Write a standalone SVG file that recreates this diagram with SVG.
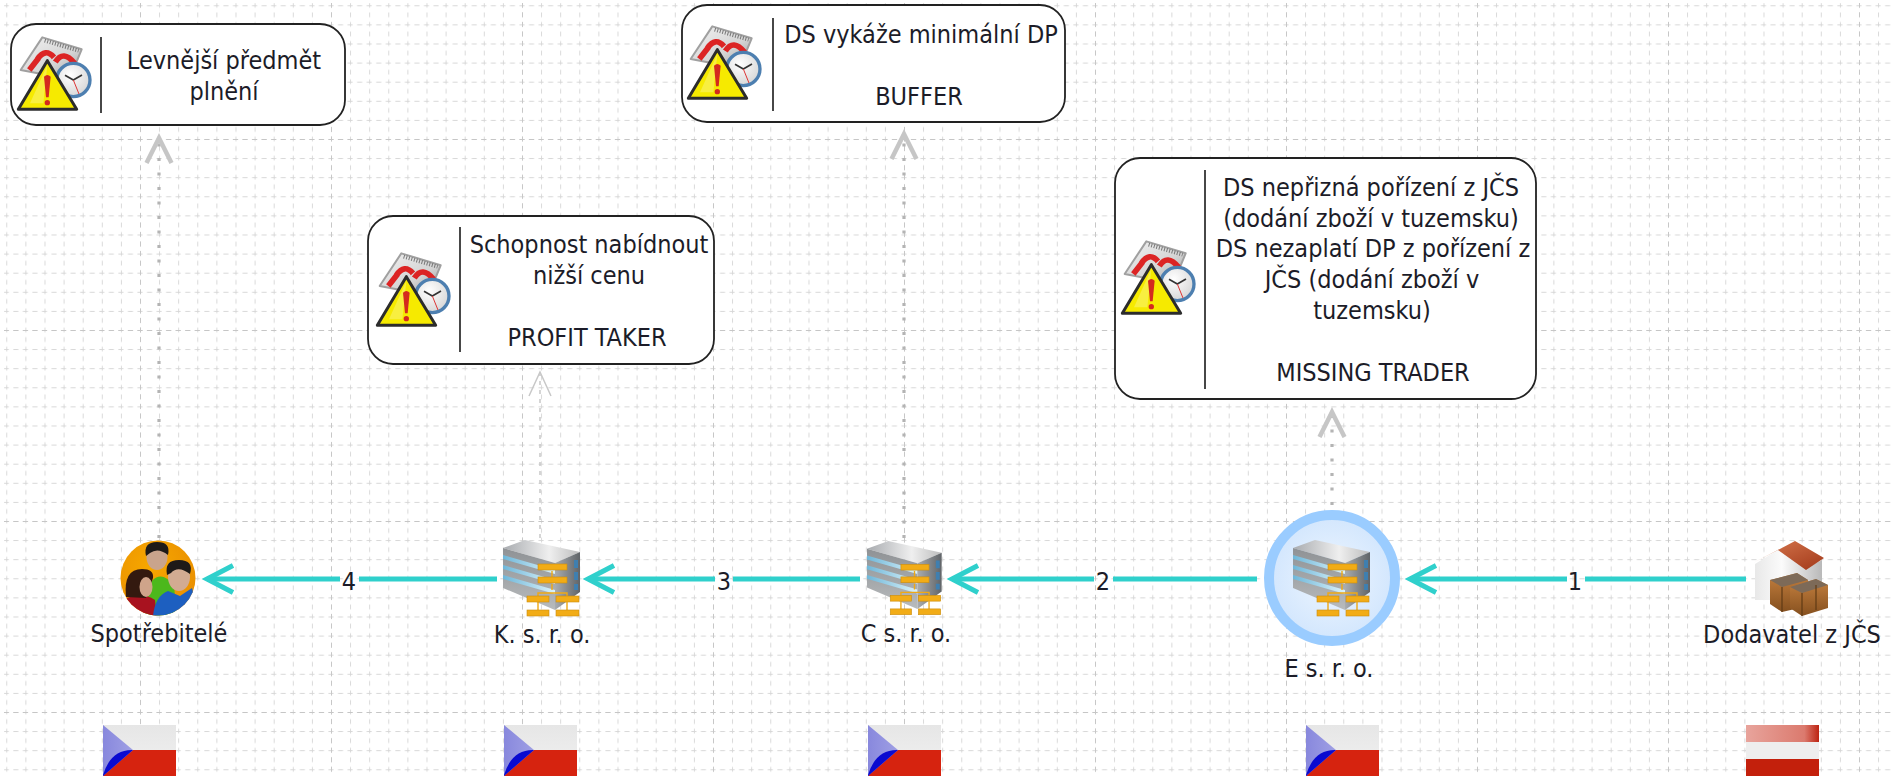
<svg xmlns="http://www.w3.org/2000/svg" xmlns:xlink="http://www.w3.org/1999/xlink" width="1891" height="776" viewBox="0 0 1891 776">
<style>
text{font-family:"DejaVu Sans","Liberation Sans",sans-serif;font-stretch:condensed;font-size:25px;fill:#1c1c28;text-anchor:middle}
.box{fill:#fff;stroke:#222;stroke-width:1.8}
.div{stroke:#333;stroke-width:1.8}
.flow{fill:none;stroke:#2fd0cc;stroke-width:5;marker-end:url(#teal)}
.dep{fill:none;stroke:#b4b4b4;stroke-width:3.2;stroke-dasharray:3 11.5;marker-end:url(#gray)}
.dep2{fill:none;stroke:#c4c4c4;stroke-width:1.4;stroke-dasharray:4 5;marker-end:url(#grayThin)}
</style>
<defs>
<marker id="teal" markerUnits="userSpaceOnUse" markerWidth="50" markerHeight="50" viewBox="-40 -25 50 50" refX="0" refY="0" orient="auto" overflow="visible"><path d="M-26,-13.5L0,0L-26,13.5" fill="none" stroke="#2fd0cc" stroke-width="5"/></marker>
<marker id="gray" markerUnits="userSpaceOnUse" markerWidth="50" markerHeight="50" viewBox="-40 -25 50 50" refX="0" refY="0" orient="auto" overflow="visible"><path d="M-25,-12.5L0,0L-25,12.5" fill="none" stroke="#c6c6c6" stroke-width="4.5"/></marker>
<marker id="grayThin" markerUnits="userSpaceOnUse" markerWidth="50" markerHeight="50" viewBox="-40 -25 50 50" refX="0" refY="0" orient="auto" overflow="visible"><path d="M-24,-11L0,0L-24,11" fill="none" stroke="#c8c8c8" stroke-width="1.5"/></marker>
<pattern id="minor" width="19.1" height="19.1" patternUnits="userSpaceOnUse" patternTransform="translate(6.3,5.3)">
<path d="M0,0H2.5M7.05,0H12.05M16.6,0H19.1M0,0V2.5M0,7.05V12.05M0,16.6V19.1" fill="none" stroke="#d6d6d6" stroke-width="1.8"/>
</pattern>
<pattern id="major" width="191" height="191" patternUnits="userSpaceOnUse" patternTransform="translate(140,139)">
<path d="M0,0H191M0,0V191" fill="none" stroke="#c6c6c6" stroke-width="1.8" stroke-dasharray="5 4.55" stroke-dashoffset="2.5"/>
</pattern>
<linearGradient id="cal" x1="0" y1="0" x2="1" y2="1"><stop offset="0" stop-color="#f2f2f2"/><stop offset=".6" stop-color="#d4d4d4"/><stop offset="1" stop-color="#9a9a9a"/></linearGradient>
<radialGradient id="clockF" cx=".4" cy=".35" r=".8"><stop offset="0" stop-color="#fff"/><stop offset="1" stop-color="#cfcfcf"/></radialGradient>
<linearGradient id="top" x1="0" y1="0" x2="1" y2="0"><stop offset="0" stop-color="#a8abaf"/><stop offset=".6" stop-color="#efefef"/><stop offset="1" stop-color="#bcbcbc"/></linearGradient>
<linearGradient id="face" x1="0" y1="0" x2="0" y2="1"><stop offset="0" stop-color="#8f9295"/><stop offset="1" stop-color="#b8bbbd"/></linearGradient>
<linearGradient id="glass" x1="0" y1="0" x2="1" y2="0"><stop offset="0" stop-color="#6fb7d9"/><stop offset="1" stop-color="#dbf2fa"/></linearGradient>
<linearGradient id="side" x1="0" y1="0" x2="1" y2="0"><stop offset="0" stop-color="#a9acaf"/><stop offset="1" stop-color="#606468"/></linearGradient>
<radialGradient id="ora" cx=".4" cy=".35" r=".7"><stop offset="0" stop-color="#f7a800"/><stop offset="1" stop-color="#e98e00"/></radialGradient>
<radialGradient id="halo" cx=".5" cy=".5" r=".5"><stop offset="0" stop-color="#eef6ff"/><stop offset="1" stop-color="#d2e6fd"/></radialGradient>
<linearGradient id="wall" x1="0" y1="0" x2="1" y2="0"><stop offset="0" stop-color="#e8e8e8"/><stop offset=".4" stop-color="#fbfbfb"/><stop offset="1" stop-color="#b9b9b9"/></linearGradient>
<linearGradient id="roof" x1="0" y1="0" x2="1" y2="1"><stop offset="0" stop-color="#d97a50"/><stop offset="1" stop-color="#a2391a"/></linearGradient>
<linearGradient id="crate" x1="0" y1="0" x2="0" y2="1"><stop offset="0" stop-color="#c5803f"/><stop offset="1" stop-color="#85501f"/></linearGradient>
<linearGradient id="whiteBand" x1="0" y1="0" x2="0" y2="1"><stop offset="0" stop-color="#e6e6e6"/><stop offset="1" stop-color="#f2f2f2"/></linearGradient>
<linearGradient id="triBlue" x1="0" y1="0" x2="1" y2="0"><stop offset="0" stop-color="#8888dd"/><stop offset="1" stop-color="#9f9fe4"/></linearGradient>
<linearGradient id="atTop" x1="0" y1="0" x2="1" y2="0"><stop offset="0" stop-color="#e8a49c"/><stop offset=".8" stop-color="#db7a6e"/><stop offset="1" stop-color="#bd2412"/></linearGradient>
<clipPath id="pplClip"><circle cx="158" cy="578" r="37.5"/></clipPath>

<g id="warn"><g transform="scale(.3333)">
<path d="M97,52L215,88L178,178L32,150Z" fill="url(#cal)" stroke="#a0a0a0" stroke-width="6" stroke-linejoin="round"/>
<path d="M104,62L206,92" stroke="#777" stroke-width="12" stroke-dasharray="3 5" fill="none"/>
<path d="M82,118Q106,82 132,112M136,126Q160,88 194,130M58,150L86,114" stroke="#dc2424" stroke-width="17" fill="none"/>
<circle cx="190" cy="180" r="50" fill="url(#clockF)" stroke="#4d7fb0" stroke-width="10"/>
<path d="M190,180L165,166M190,180L216,165" stroke="#333" stroke-width="5" fill="none"/>
<path d="M190,180L207,222" stroke="#d33" stroke-width="3" fill="none"/>
<path d="M112,122L200,268H25Z" fill="#f6ea00" stroke="#2c2c2c" stroke-width="9" stroke-linejoin="round"/>
<path d="M112,135L60,250H100Z" fill="#fff" opacity=".25"/>
<path d="M102,170Q112,160 122,170L116,232H108Z" fill="#d42a1e"/>
<circle cx="112" cy="248" r="8" fill="#d42a1e"/>
</g></g>

<g id="bldg">
<path d="M1,8L23,0L78,12L53,23Z" fill="url(#top)"/>
<path d="M1,8L53,23V70L1,48Z" fill="url(#face)"/>
<path d="M1,15L53,30V34L1,19ZM1,25L53,40V44L1,29ZM1,35L53,50V54L1,39Z" fill="url(#glass)"/>
<path d="M53,23L78,12V52L53,70Z" fill="url(#side)"/>
<path d="M72,20H76V28H72ZM72,32H76V40H72ZM72,44H76V50H72Z" fill="#3f7fb0"/>
<path d="M50,31V37M50,44V50M36,56V53H65V56M36,62V70M65,62V70" stroke="#efa915" stroke-width="1.4" fill="none"/>
<g fill="#f2ac16" stroke="#c98c10" stroke-width=".6">
<rect x="36" y="24" width="29" height="6"/><rect x="36" y="37" width="29" height="6"/>
<rect x="25" y="56" width="22" height="6"/><rect x="54" y="56" width="23" height="6"/>
<rect x="25" y="70" width="22" height="6"/><rect x="54" y="70" width="23" height="6"/>
</g>
</g>

<g id="flagCZ">
<rect width="73" height="51" fill="url(#whiteBand)"/>
<rect y="25" width="73" height="26" fill="#d6230f"/>
<path d="M0,0L30,25L0,51Z" fill="url(#triBlue)"/>
<path d="M30,25Q8,24 0,50V51Z" fill="#0a0ad0"/>
</g>
</defs>

<rect width="1891" height="776" fill="#fff"/>
<g id="grid">
<rect x="4" y="3" width="1887" height="773" fill="url(#minor)"/>
<rect x="4" y="3" width="1887" height="773" fill="url(#major)"/>
</g>

<g id="connectors">
<path class="flow" d="M1746,579H1585M1567,579H1410"/>
<path class="flow" d="M1257,579H1113M1094,579H952"/>
<path class="flow" d="M860,579H733M715,579H588"/>
<path class="flow" d="M497,579H359M340,579H207"/>
<path class="dep" d="M159,538V138"/>
<path class="dep2" d="M540,538V372"/>
<path class="dep" d="M904,538V134"/>
<path class="dep" d="M1332,505V412"/>
<text x="1575" y="590">1</text>
<text x="1103" y="590">2</text>
<text x="724" y="590">3</text>
<text x="349" y="590">4</text>
</g>

<g id="node-risk-levnejsi">
<rect class="box" x="11" y="24" width="334" height="101" rx="25"/>
<use xlink:href="#warn" href="#warn" transform="translate(10,20)"/>
<path class="div" d="M101,37V113"/>
<text x="224" y="69">Levnější předmět</text>
<text x="224" y="100">plnění</text>
</g>

<g id="node-risk-buffer">
<rect class="box" x="682" y="5" width="383" height="117" rx="25"/>
<use xlink:href="#warn" href="#warn" transform="translate(680,9)"/>
<path class="div" d="M773,18V111"/>
<text x="921" y="43">DS vykáže minimální DP</text>
<text x="919" y="105">BUFFER</text>
</g>

<g id="node-risk-profit">
<rect class="box" x="368" y="216" width="346" height="148" rx="25"/>
<use xlink:href="#warn" href="#warn" transform="translate(369,236)"/>
<path class="div" d="M460,227V352"/>
<text x="589" y="253">Schopnost nabídnout</text>
<text x="589" y="284">nižší cenu</text>
<text x="587" y="346">PROFIT TAKER</text>
</g>

<g id="node-risk-missing">
<rect class="box" x="1115" y="158" width="421" height="241" rx="25"/>
<use xlink:href="#warn" href="#warn" transform="translate(1114,224)"/>
<path class="div" d="M1205,170V389"/>
<text x="1371" y="196">DS nepřizná pořízení z JČS</text>
<text x="1371" y="227">(dodání zboží v tuzemsku)</text>
<text x="1373" y="257">DS nezaplatí DP z pořízení z</text>
<text x="1372" y="288">JČS (dodání zboží v</text>
<text x="1372" y="319">tuzemsku)</text>
<text x="1373" y="381">MISSING TRADER</text>
</g>

<g id="node-spotrebitele">
<circle cx="158" cy="578" r="37.5" fill="url(#ora)"/>
<g clip-path="url(#pplClip)">
<path d="M145,592Q157,565 174,585L177,620H145Z" fill="#4cb81c"/>
<ellipse cx="157" cy="557" rx="10.5" ry="13" fill="#c9a48c"/>
<path d="M146,556Q143,542 157,542Q171,542 168,555Q158,547 150,553Z" fill="#1e1a18"/>
<path d="M124,600Q140,590 155,600L157,620H120Z" fill="#a8121f"/>
<path d="M126,597Q123,569 142,569Q154,569 153,578L146,598Z" fill="#33190f"/>
<ellipse cx="146" cy="587" rx="6.5" ry="10" fill="#cfa48a"/>
<path d="M153,616Q155,596 168,591L180,596L192,588L200,620Z" fill="#1d5fc0"/>
<ellipse cx="179" cy="577" rx="11" ry="14" fill="#d2ab92"/>
<path d="M167,575Q164,560 179,560Q194,560 190,574Q178,565 171,573Z" fill="#1e1a18"/>
</g>
<text x="159" y="642">Spotřebitelé</text>
</g>

<g id="node-k">
<use xlink:href="#bldg" href="#bldg" transform="translate(502,540)"/>
<text x="542" y="643">K. s. r. o.</text>
</g>

<g id="node-c">
<use xlink:href="#bldg" href="#bldg" transform="translate(866,541) scale(.97)"/>
<text x="906" y="642">C s. r. o.</text>
</g>

<g id="node-e">
<circle cx="1332" cy="578" r="63" fill="url(#halo)" stroke="#9accff" stroke-width="10"/>
<use xlink:href="#bldg" href="#bldg" transform="translate(1292,540)"/>
<text x="1329" y="677">E s. r. o.</text>
</g>

<g id="node-dodavatel">
<path d="M1755,564L1778,550L1806,568L1822,560V600H1755Z" fill="url(#wall)"/>
<path d="M1753,563L1795,541L1824,558L1806,570L1778,550Z" fill="url(#roof)"/>
<path d="M1770,580L1797,573L1808,580V606L1782,612L1770,604Z" fill="url(#crate)"/>
<path d="M1790,587L1816,579L1828,585V608L1802,616L1790,608Z" fill="url(#crate)"/>
<path d="M1770,580L1797,573L1808,580L1782,587ZM1790,587L1816,579L1828,585L1802,593Z" fill="#7d6a58"/>
<path d="M1782,587V612M1802,593V616M1816,585V610" stroke="#5f3a14" stroke-width="1.2" fill="none"/>
<text x="1792" y="643">Dodavatel z JČS</text>
</g>

<g id="flag-1"><use xlink:href="#flagCZ" href="#flagCZ" transform="translate(103,725)"/></g>
<g id="flag-2"><use xlink:href="#flagCZ" href="#flagCZ" transform="translate(504,725)"/></g>
<g id="flag-3"><use xlink:href="#flagCZ" href="#flagCZ" transform="translate(868,725)"/></g>
<g id="flag-4"><use xlink:href="#flagCZ" href="#flagCZ" transform="translate(1306,725)"/></g>
<g id="flag-5">
<rect x="1746" y="725" width="73" height="17" fill="url(#atTop)"/>
<rect x="1746" y="742" width="73" height="17" fill="#eeeeee"/>
<rect x="1746" y="759" width="73" height="17" fill="#c3200c"/>
</g>
</svg>
